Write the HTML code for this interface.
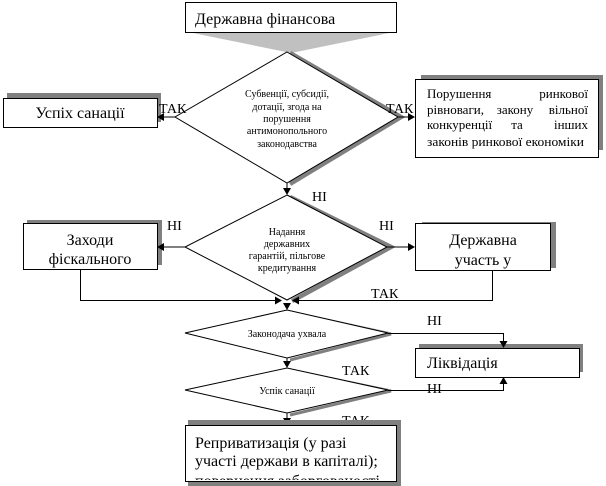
<!DOCTYPE html>
<html><head><meta charset="utf-8"><style>
html,body{margin:0;padding:0;background:#fff;}
svg{display:block;}
text{font-family:"Liberation Serif","DejaVu Serif",serif;fill:#000;}
</style></head><body>
<svg width="606" height="486" viewBox="0 0 606 486" xmlns="http://www.w3.org/2000/svg" font-family="'Liberation Serif', 'DejaVu Serif', serif">
<defs>
<clipPath id="cb"><rect x="186" y="426" width="209" height="54"/></clipPath>
</defs>
<!-- top box + gray pointer -->
<polygon points="188,32 394,32 291,53" fill="#c0c0c0"/>
<rect x="185.5" y="2.5" width="211" height="30" fill="#fff" stroke="#000" stroke-width="1"/>
<text x="195" y="24" font-size="16">Державна фінансова</text>

<!-- diamond 1 -->
<polyline points="290,53 401,117 290,184" fill="none" stroke="#808080" stroke-width="4.5"/>
<polygon points="287,52 398,117 287,183 175,117" fill="#fff" stroke="#000" stroke-width="1"/>
<g font-size="10" text-anchor="middle">
<text x="287" y="97">Субвенції, субсидії,</text>
<text x="287" y="110">дотації, згода на</text>
<text x="287" y="122">порушення</text>
<text x="287" y="134">антимонопольного</text>
<text x="287" y="147">законодавства</text>
</g>

<!-- left box Успіх санації -->
<rect x="7" y="93" width="154" height="29" fill="#808080"/>
<rect x="3.5" y="98.5" width="154" height="29" fill="#fff" stroke="#000"/>
<text x="80" y="118" font-size="16" text-anchor="middle">Успіх санації</text>

<!-- right box -->
<rect x="421" y="75" width="182" height="75" fill="#808080"/>
<rect x="415.5" y="79.5" width="183" height="78" fill="#fff" stroke="#000"/>
<g font-size="13">
<text x="427" y="98">Порушення</text>
<text x="588" y="98" text-anchor="end">ринкової</text>
<text x="427" y="114">рівноваги,</text>
<text x="515" y="114" text-anchor="middle">закону</text>
<text x="588" y="114" text-anchor="end">вільної</text>
<text x="427" y="129">конкуренції</text>
<text x="517" y="129" text-anchor="middle">та</text>
<text x="588" y="129" text-anchor="end">інших</text>
<text x="427" y="146" textLength="157" lengthAdjust="spacingAndGlyphs">законів ринкової економіки</text>
</g>

<!-- arrows diamond1 -->
<line x1="175" y1="117" x2="162" y2="117" stroke="#000"/>
<polygon points="157,117 164,113 164,121"/>
<line x1="398" y1="117" x2="410" y2="117" stroke="#000"/>
<polygon points="415,117 408,113 408,121"/>
<line x1="287" y1="183" x2="287" y2="190" stroke="#000"/>
<polygon points="287,195 283,188 291,188"/>
<g font-size="14">
<text x="159" y="113">ТАК</text>
<text x="386" y="113">ТАК</text>
</g>

<!-- diamond 2 -->
<polyline points="290,197 391,247 292,301" fill="none" stroke="#808080" stroke-width="4.5"/>
<polygon points="287,195 387,247 287,300 185,247" fill="#fff" stroke="#000"/>
<g font-size="10" text-anchor="middle">
<text x="287" y="235">Надання</text>
<text x="287" y="247">державних</text>
<text x="287" y="259">гарантій, пільгове</text>
<text x="287" y="271">кредитування</text>
</g>
<g font-size="14">
<text x="312" y="201">НІ</text>
<text x="379" y="230">НІ</text>
<text x="167" y="230">НІ</text>
</g>

<!-- Заходи фіскального -->
<rect x="27" y="220" width="135" height="45" fill="#808080"/>
<rect x="23.5" y="223.5" width="134" height="46" fill="#fff" stroke="#000"/>
<g font-size="16" text-anchor="middle">
<text x="90" y="245">Заходи</text>
<text x="90" y="264">фіскального</text>
</g>
<line x1="185" y1="247" x2="162" y2="247" stroke="#000"/>
<polygon points="157,247 164,243 164,251"/>

<!-- Державна участь у -->
<rect x="422" y="222" width="134" height="46" fill="#808080"/>
<rect x="415.5" y="223.5" width="135" height="47" fill="#fff" stroke="#000"/>
<g font-size="16" text-anchor="middle">
<text x="483" y="245">Державна</text>
<text x="483" y="265">участь у</text>
</g>
<line x1="387" y1="247" x2="410" y2="247" stroke="#000"/>
<polygon points="415,247 408,243 408,251"/>

<!-- merge lines -->
<polyline points="80.5,270 80.5,300.5 276,300.5" fill="none" stroke="#000"/>
<polygon points="282,300.5 275,296.5 275,304.5"/>
<polyline points="492.5,271 492.5,300.5 298,300.5" fill="none" stroke="#000"/>
<polygon points="292,300.5 299,296.5 299,304.5"/>
<text x="371" y="298" font-size="14">ТАК</text>
<polygon points="287,310 283,303 291,303"/>

<!-- diamond 3 -->
<polyline points="290,312 391,334 290,360" fill="none" stroke="#808080" stroke-width="3"/>
<polygon points="287,310 388,333 287,358 185,333" fill="#fff" stroke="#000"/>
<text x="287" y="337" font-size="10" text-anchor="middle">Законодача ухвала</text>
<line x1="287" y1="358" x2="287" y2="363" stroke="#000"/>
<polygon points="287,368 283,361 291,361"/>

<!-- diamond 4 -->
<polyline points="290,370 391,391 290,415" fill="none" stroke="#808080" stroke-width="3"/>
<polygon points="287,368 388,390 287,413 185,390" fill="#fff" stroke="#000"/>
<text x="287" y="394" font-size="10" text-anchor="middle">Успік санації</text>
<text x="342" y="375" font-size="14">ТАК</text>
<text x="342" y="425" font-size="14">ТАК</text>
<line x1="287" y1="413" x2="287" y2="419" stroke="#000"/>
<polygon points="287,425 283,418 291,418"/>

<!-- Ліквідація -->
<rect x="419" y="344" width="164" height="28" fill="#808080"/>
<rect x="415.5" y="348.5" width="164" height="29" fill="#fff" stroke="#000"/>
<text x="427" y="368" font-size="16">Ліквідація</text>
<polyline points="388,333.5 503.5,333.5 503.5,342" fill="none" stroke="#000"/>
<polygon points="503.5,348 499.5,341 507.5,341"/>
<polyline points="388,390.5 503.5,390.5 503.5,383" fill="none" stroke="#000"/>
<polygon points="503.5,377 499.5,384 507.5,384"/>
<text x="427" y="325" font-size="14">НІ</text>
<text x="427" y="393" font-size="14">НІ</text>

<!-- bottom box -->
<rect x="188" y="420" width="213" height="66" fill="#808080"/>
<rect x="185.5" y="425.5" width="211" height="56" fill="#fff" stroke="#000"/>
<g font-size="16" clip-path="url(#cb)">
<text x="195" y="448">Реприватизація (у разі</text>
<text x="195" y="466">участі держави в капіталі);</text>
<text x="195" y="486">повернення заборгованості</text>
</g>
</svg>
</body></html>
